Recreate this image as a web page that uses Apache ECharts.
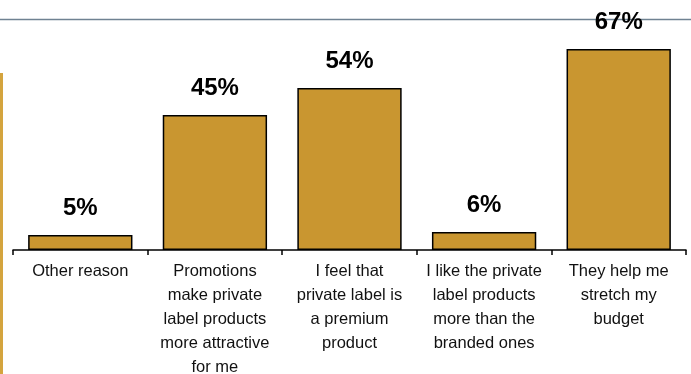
<!DOCTYPE html>
<html>
<head>
<meta charset="utf-8">
<script src="https://cdn.jsdelivr.net/npm/echarts@6/dist/echarts.min.js"></script>
<style>
  html, body { margin: 0; padding: 0; background: #ffffff; }
  #chart { width: 691px; height: 374px; }
</style>
</head>
<body>
<div id="chart"></div>
<script>
// Reasons for buying private label products (% of respondents)
const categories = [
  'Other reason',
  'Promotions\nmake private\nlabel products\nmore attractive\nfor me',
  'I feel that\nprivate label is\na premium\nproduct',
  'I like the private\nlabel products\nmore than the\nbranded ones',
  'They help me\nstretch my\nbudget'
];
const shares = [5, 45, 54, 6, 67];

const chart = echarts.init(document.getElementById('chart'), null, { renderer: 'canvas' });

chart.setOption({
  animation: false,
  backgroundColor: '#ffffff',
  grid: {
    left: 13, right: 5, top: 10, bottom: 124,
    containLabel: false,
    outerBoundsMode: 'none'
  },
  xAxis: {
    type: 'category',
    data: categories,
    axisLine: { show: true, lineStyle: { color: '#000000', width: 1.5 } },
    axisTick: { show: true, length: 5, alignWithLabel: false, lineStyle: { color: '#000000', width: 1.5 } },
    axisLabel: {
      interval: 0,
      margin: 9.5,
      color: '#111111',
      fontFamily: 'Liberation Sans, Arial, sans-serif',
      fontSize: 16.5,
      lineHeight: 24,
      align: 'center'
    }
  },
  yAxis: {
    type: 'value',
    min: 0,
    max: 80,
    show: false,
    splitLine: { show: false }
  },
  series: [{
    type: 'bar',
    data: shares,
    barWidth: '77.5%',
    itemStyle: { color: '#C99630', borderColor: '#000000', borderWidth: 1.5 },
    label: {
      show: true,
      position: 'top',
      distance: 14.5,
      formatter: p => p.value + '%',
      color: '#000000',
      fontFamily: 'Liberation Sans, Arial, sans-serif',
      fontWeight: 'bold',
      fontSize: 24,
      lineHeight: 24
    }
  }],
  graphic: [
    {
      type: 'line',
      z: 0,
      shape: { x1: 0, y1: 19.5, x2: 691, y2: 19.5 },
      style: { stroke: '#6F8292', lineWidth: 1.5 }
    },
    {
      type: 'rect',
      shape: { x: 0, y: 73, width: 3, height: 301 },
      style: { fill: '#D4A43E' }
    }
  ]
});
</script>
</body>
</html>
